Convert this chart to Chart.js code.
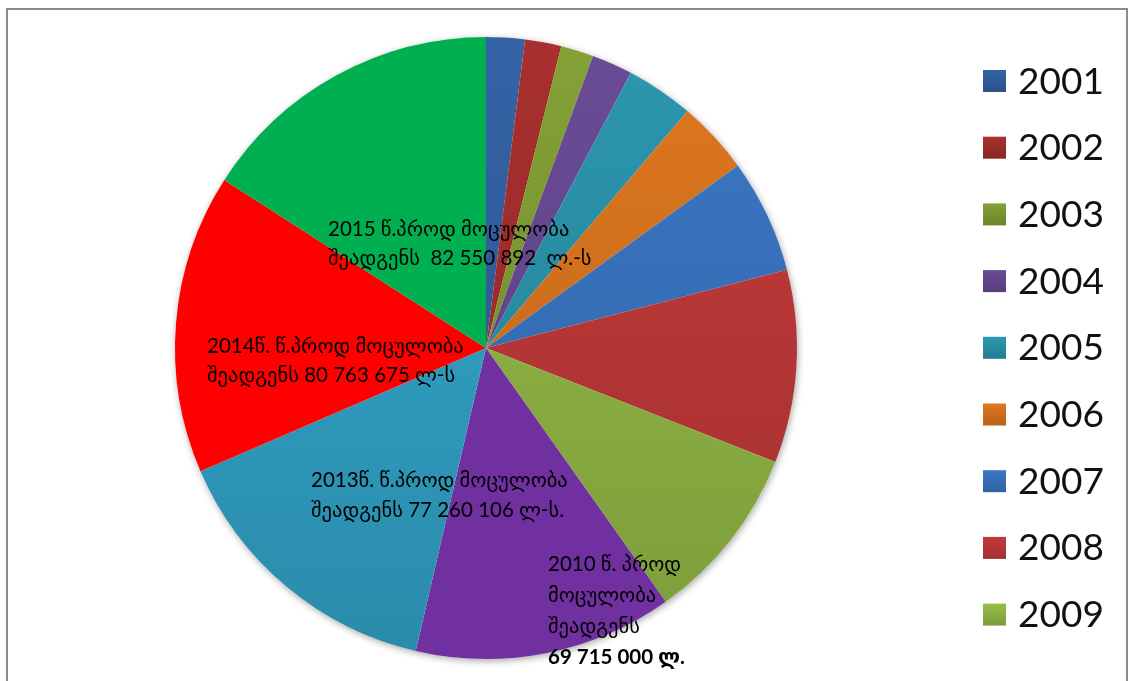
<!DOCTYPE html>
<html>
<head>
<meta charset="utf-8">
<script src="https://cdn.jsdelivr.net/npm/chart.js@4.4.1/dist/chart.umd.min.js"></script>
<style>
  html, body { margin: 0; padding: 0; background: #fff; }
  #wrap { position: relative; width: 1128px; height: 681px; overflow: hidden; }
  #frame { position: absolute; left: 6px; top: 8px; width: 1122px; height: 700px; border: 2px solid #8c8c8c; box-sizing: border-box; }
  #chart { position: absolute; left: 0; top: 0; }
</style>
</head>
<body>
<div id="wrap">
  <div id="frame"></div>
  <canvas id="chart" width="1128" height="681"></canvas>
</div>
<script>
// production volume per year (litres)
const years = ['2001', '2002', '2003', '2004', '2005', '2006', '2007', '2008', '2009', '2010', '2013', '2014', '2015'];
const volumes = [10400000, 9800000, 8800000, 11000000, 18200000, 19700000, 30800000, 52000000, 47800000, 69715000, 77260106, 80763675, 82550892];

// text notes written inside some of the slices; {v} is replaced by the slice value
const noteYears = ['2015', '2014', '2013', '2010'];
const noteLines = [
  ['2015 წ.პროდ მოცულობა', 'შეადგენს  {v}  ლ.-ს'],
  ['2014წ. წ.პროდ მოცულობა', 'შეადგენს {v} ლ-ს'],
  ['2013წ. წ.პროდ მოცულობა', 'შეადგენს {v} ლ-ს.'],
  ['2010 წ. პროდ', 'მოცულობა', 'შეადგენს', '{v} ლ.']
];

const sliceColors = ['#3463A6', '#A8302E', '#84A236', '#6A4C96', '#2B97B0', '#E0781F', '#3B78C6', '#C63A3A', '#97BE48', '#7030A0', '#33A9CF', '#FF0000', '#00B050'];
const shade = [0.82, 0.82, 0.82, 0.82, 0.82, 0.82, 0.82, 0.82, 0.82, 1, 0.82, 1, 1];

const FONT = '"Lato", "DejaVu Sans", sans-serif';

function darken(hex, f) {
  const n = parseInt(hex.slice(1), 16);
  const r = Math.round(((n >> 16) & 255) * f);
  const g = Math.round(((n >> 8) & 255) * f);
  const b = Math.round((n & 255) * f);
  return `rgb(${r},${g},${b})`;
}

function groupDigits(v) {
  return String(v).replace(/\B(?=(\d{3})+(?!\d))/g, ' ');
}

function sliceFill(context) {
  const chart = context.chart;
  const area = chart.chartArea;
  const i = context.dataIndex;
  if (!area) return sliceColors[i];
  const g = chart.ctx.createLinearGradient(0, area.top, 0, area.bottom);
  g.addColorStop(0, sliceColors[i]);
  g.addColorStop(1, darken(sliceColors[i], shade[i]));
  return g;
}

// soft shadow under the pie
const pieShadow = {
  id: 'pieShadow',
  beforeDatasetsDraw(chart) {
    const arc = chart.getDatasetMeta(0).data[0];
    if (!arc) return;
    const { ctx } = chart;
    ctx.save();
    ctx.shadowColor = 'rgba(0,0,0,0.35)';
    ctx.shadowBlur = 7;
    ctx.shadowOffsetX = 1;
    ctx.shadowOffsetY = 2;
    ctx.fillStyle = '#fff';
    ctx.beginPath();
    ctx.arc(arc.x, arc.y, arc.outerRadius, 0, Math.PI * 2);
    ctx.fill();
    ctx.restore();
  }
};

// notes inside the slices, offsets are from the pie centre
const notePos = {
  '2015': { dx: -158, dy: -119, lh: 29, boldLast: false },
  '2014': { dx: -279, dy: -2, lh: 29, boldLast: false },
  '2013': { dx: -175, dy: 132, lh: 30, boldLast: false },
  '2010': { dx: 62, dy: 216, lh: 31, boldLast: true }
};

const sliceNotes = {
  id: 'sliceNotes',
  afterDatasetsDraw(chart) {
    const arc = chart.getDatasetMeta(0).data[0];
    if (!arc) return;
    const { ctx } = chart;
    ctx.save();
    ctx.fillStyle = '#000';
    ctx.textAlign = 'left';
    ctx.textBaseline = 'middle';
    noteYears.forEach((yr, k) => {
      const p = notePos[yr];
      const v = groupDigits(volumes[years.indexOf(yr)]);
      noteLines[k].forEach((line, j) => {
        const last = j === noteLines[k].length - 1;
        ctx.font = (p.boldLast && last ? 'bold ' : '') + '20.5px ' + FONT;
        ctx.fillText(line.replace('{v}', v), arc.x + p.dx, arc.y + p.dy + j * p.lh);
      });
    });
    ctx.restore();
  }
};

// legend column on the right; only rows that fit fully are shown
const sideLegend = {
  id: 'sideLegend',
  afterDraw(chart) {
    const { ctx } = chart;
    ctx.save();
    ctx.textAlign = 'left';
    ctx.textBaseline = 'alphabetic';
    ctx.font = '37px ' + FONT;
    years.forEach((yr, i) => {
      const top = 70 + i * 66.7;
      if (top + 30 > chart.height) return;
      const g = ctx.createLinearGradient(0, top, 0, top + 22);
      g.addColorStop(0, sliceColors[i]);
      g.addColorStop(1, darken(sliceColors[i], shade[i]));
      ctx.fillStyle = g;
      ctx.fillRect(983, top, 23, 22);
      ctx.fillStyle = '#111';
      ctx.fillText(yr, 1018, top + 23.5);
    });
    ctx.restore();
  }
};

new Chart(document.getElementById('chart'), {
  type: 'pie',
  data: {
    labels: years,
    datasets: [{
      data: volumes,
      backgroundColor: sliceFill,
      borderWidth: 0,
      hoverOffset: 0
    }]
  },
  options: {
    responsive: false,
    animation: false,
    layout: { padding: { left: 175, right: 331, top: 37, bottom: 22 } },
    plugins: {
      legend: { display: false },
      tooltip: { enabled: false }
    }
  },
  plugins: [pieShadow, sliceNotes, sideLegend]
});
</script>
</body>
</html>
